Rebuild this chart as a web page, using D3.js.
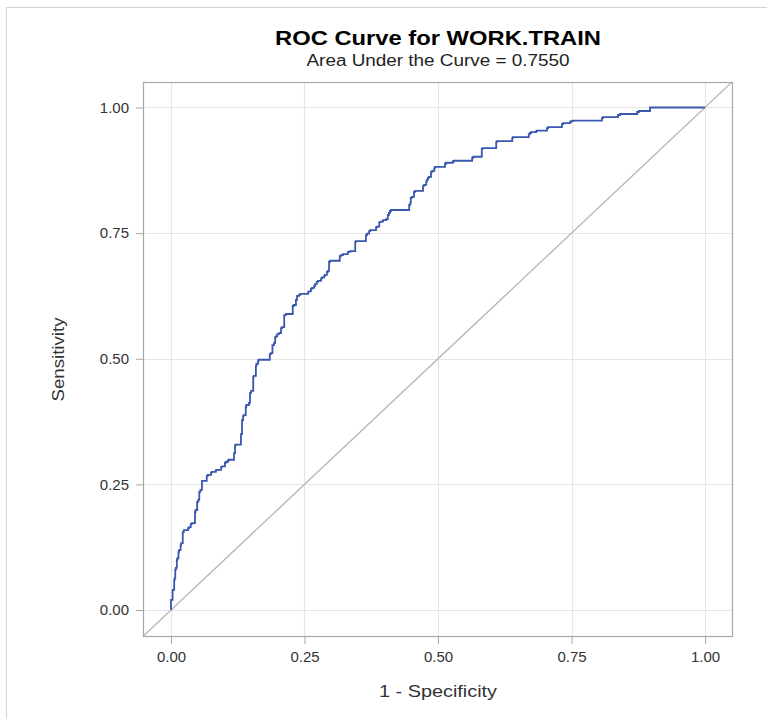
<!DOCTYPE html>
<html><head><meta charset="utf-8">
<script src="https://cdn.jsdelivr.net/npm/d3@7/dist/d3.min.js"></script>
<style>body{margin:0;background:#fff}svg{display:block}text{font-family:"Liberation Sans",Arial,sans-serif}</style>
</head><body><div id="chart"></div>
<script>
const titleText = "ROC Curve for WORK.TRAIN";
const subtitleText = "Area Under the Curve = 0.7550";
const xLabel = "1 - Specificity";
const yLabel = "Sensitivity";
const tickValues = [0, 0.25, 0.5, 0.75, 1];
// ROC curve vertices (1 - specificity, sensitivity)
const fpr = [0,0.001,0.003,0.004,0.006,0.007,0.008,0.009,0.011,0.012,0.014,0.015,0.018,0.019,0.022,0.024,0.028,0.032,0.034,0.037,0.039,0.045,0.046,0.049,0.051,0.053,0.055,0.058,0.060,0.067,0.069,0.075,0.077,0.084,0.085,0.094,0.096,0.101,0.103,0.107,0.108,0.118,0.120,0.122,0.131,0.133,0.135,0.136,0.140,0.141,0.146,0.148,0.150,0.154,0.155,0.159,0.160,0.163,0.164,0.185,0.187,0.190,0.193,0.195,0.197,0.199,0.202,0.206,0.208,0.212,0.215,0.228,0.230,0.234,0.236,0.240,0.242,0.257,0.258,0.262,0.264,0.268,0.270,0.273,0.275,0.281,0.283,0.287,0.288,0.292,0.294,0.296,0.298,0.316,0.318,0.322,0.331,0.333,0.336,0.345,0.346,0.365,0.367,0.371,0.373,0.384,0.386,0.390,0.393,0.397,0.403,0.406,0.408,0.410,0.412,0.446,0.448,0.449,0.451,0.455,0.457,0.472,0.474,0.478,0.479,0.481,0.483,0.487,0.489,0.493,0.494,0.513,0.515,0.528,0.530,0.564,0.566,0.582,0.584,0.609,0.610,0.639,0.640,0.670,0.672,0.674,0.684,0.685,0.704,0.706,0.732,0.734,0.747,0.749,0.753,0.807,0.809,0.837,0.841,0.873,0.876,0.897,0.899,1.000];
const tpr = [0,0.020,0.020,0.040,0.040,0.060,0.064,0.080,0.084,0.100,0.103,0.115,0.119,0.129,0.133,0.155,0.159,0.159,0.163,0.165,0.171,0.173,0.195,0.199,0.215,0.219,0.235,0.239,0.257,0.257,0.267,0.269,0.274,0.275,0.278,0.279,0.285,0.286,0.293,0.295,0.298,0.299,0.312,0.328,0.329,0.350,0.378,0.386,0.388,0.404,0.408,0.412,0.432,0.436,0.464,0.466,0.486,0.490,0.496,0.498,0.509,0.511,0.527,0.531,0.543,0.545,0.549,0.551,0.561,0.563,0.587,0.589,0.605,0.607,0.617,0.625,0.627,0.629,0.633,0.634,0.639,0.641,0.645,0.649,0.653,0.655,0.660,0.662,0.665,0.667,0.673,0.675,0.693,0.695,0.704,0.706,0.708,0.712,0.713,0.714,0.732,0.734,0.746,0.749,0.754,0.756,0.762,0.763,0.772,0.773,0.776,0.778,0.786,0.790,0.794,0.796,0.806,0.810,0.820,0.822,0.832,0.834,0.844,0.846,0.852,0.856,0.860,0.862,0.872,0.874,0.879,0.882,0.888,0.890,0.893,0.894,0.900,0.902,0.918,0.919,0.931,0.933,0.939,0.941,0.947,0.949,0.951,0.953,0.954,0.959,0.961,0.967,0.969,0.971,0.973,0.974,0.979,0.981,0.985,0.987,0.991,0.993,1.000,1.000];

const W = 767, H = 719;
const L = 143, R = 733, T = 82, B = 637;
const svg = d3.select("#chart").append("svg").attr("width", W).attr("height", H);
svg.append("rect").attr("x", 6.5).attr("y", 7.5).attr("width", 900).attr("height", 900)
  .attr("fill", "#fff").attr("stroke", "#d4d4d4").attr("stroke-width", 1);

const x = d3.scaleLinear().domain([-0.0524, 1.0524]).range([L, R]);
const y = d3.scaleLinear().domain([-0.0537, 1.0507]).range([B, T]);

svg.append("clipPath").attr("id", "clip").append("rect")
  .attr("x", L).attr("y", T).attr("width", R - L).attr("height", B - T);

// grid
const grid = svg.append("g");
grid.selectAll(".gx").data(tickValues).join("line")
  .attr("x1", d => Math.round(x(d)) + 0.5).attr("x2", d => Math.round(x(d)) + 0.5)
  .attr("y1", T).attr("y2", B).attr("stroke", "#e6e6e6").attr("stroke-width", 1.2);
grid.selectAll(".gy").data(tickValues).join("line")
  .attr("y1", d => Math.round(y(d)) + 0.5).attr("y2", d => Math.round(y(d)) + 0.5)
  .attr("x1", L).attr("x2", R).attr("stroke", "#e6e6e6").attr("stroke-width", 1.2);

// diagonal reference
svg.append("line").attr("clip-path", "url(#clip)")
  .attr("x1", x(-0.06)).attr("y1", y(-0.06)).attr("x2", x(1.06)).attr("y2", y(1.06))
  .attr("stroke", "#b8b8b8").attr("stroke-width", 1.4);

// ROC curve
const pts = fpr.map((d, i) => [d, tpr[i]]);
svg.append("path").datum(pts).attr("clip-path", "url(#clip)")
  .attr("fill", "none").attr("stroke", "#3858b0").attr("stroke-width", 1.8)
  .attr("d", d3.line().x(d => x(d[0])).y(d => y(d[1])).curve(d3.curveStepBefore));

// frame
svg.append("rect").attr("x", L + 0.5).attr("y", T + 0.5).attr("width", R - L - 1).attr("height", B - T - 1)
  .attr("fill", "none").attr("stroke", "#a8a8a8").attr("stroke-width", 1.2);

// axes
const fmt = d3.format(".2f");
const xAxis = svg.append("g").attr("transform", `translate(0,${B})`)
  .call(d3.axisBottom(x).tickValues(tickValues).tickFormat(fmt).tickSize(7).tickPadding(7));
const yAxis = svg.append("g").attr("transform", `translate(${L},0)`)
  .call(d3.axisLeft(y).tickValues(tickValues).tickFormat(fmt).tickSize(7).tickPadding(7));
[xAxis, yAxis].forEach(a => {
  a.select(".domain").remove();
  a.selectAll(".tick line").attr("stroke", "#a8a8a8");
  a.selectAll(".tick text").attr("fill", "#333").style("font-size", "15px");
});

// titles
const cx = (L + R) / 2;
svg.append("text").attr("x", cx).attr("y", 45).attr("text-anchor", "middle")
  .attr("textLength", 326).attr("lengthAdjust", "spacingAndGlyphs")
  .style("font-size", "21px").style("font-weight", "bold").attr("fill", "#000").text(titleText);
svg.append("text").attr("x", cx).attr("y", 66).attr("text-anchor", "middle")
  .attr("textLength", 263).attr("lengthAdjust", "spacingAndGlyphs")
  .style("font-size", "16px").attr("fill", "#222").text(subtitleText);
svg.append("text").attr("x", cx).attr("y", 697).attr("text-anchor", "middle")
  .attr("textLength", 118).attr("lengthAdjust", "spacingAndGlyphs")
  .style("font-size", "17px").attr("fill", "#333").text(xLabel);
svg.append("text").attr("transform", `translate(64,${(T + B) / 2}) rotate(-90)`).attr("text-anchor", "middle")
  .attr("textLength", 84).attr("lengthAdjust", "spacingAndGlyphs")
  .style("font-size", "17px").attr("fill", "#333").text(yLabel);
</script></body></html>
